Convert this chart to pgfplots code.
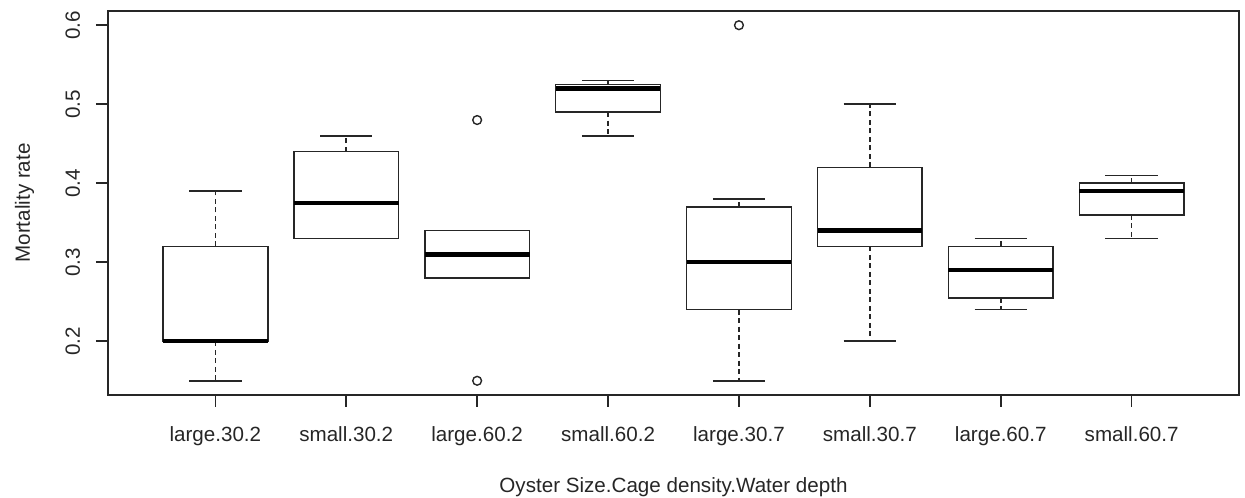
\documentclass[border=0pt]{standalone}
\usepackage{fontspec}
\setmainfont{Liberation Sans}
\usepackage{pgfplots}
\pgfplotsset{compat=1.18}
\usepgfplotslibrary{statistics}
\begin{document}
\begin{tikzpicture}
\useasboundingbox (0,0) rectangle (622.5pt,248.5pt);
\begin{axis}[
  at={(54pt,51pt)}, anchor=south west,
  scale only axis, width=565.5pt, height=192pt,
  xmin=0.18, xmax=8.82, ymin=0.132, ymax=0.618,
  axis line style={line width=0.8pt, black!85},
  every tick/.style={line width=0.8pt, black!85},
  tick align=outside, major tick length=6pt,
  xtick pos=bottom, ytick pos=left,
  xtick={1,2,3,4,5,6,7,8},
  xticklabels={large.30.2,small.30.2,large.60.2,small.60.2,large.30.7,small.30.7,large.60.7,small.60.7},
  ytick={0.2,0.3,0.4,0.5,0.6},
  yticklabels={0.2,0.3,0.4,0.5,0.6},
  tick label style={font=\fontsize{10.3pt}{12pt}\selectfont, inner sep=0pt, text=black!85},
  xticklabel style={anchor=base},
  xticklabel shift=17.3pt,
  yticklabel style={rotate=90, anchor=base},
  yticklabel shift=8pt,
  label style={font=\fontsize{10.3pt}{12pt}\selectfont, inner sep=0pt, text=black!85},
  xlabel={Oyster Size.Cage density.Water depth},
  xlabel style={at={(axis description cs:0.5,-0.2552)}, anchor=base},
  ylabel={Mortality rate},
  ylabel style={at={(axis description cs:-0.06897,0.5)}, anchor=base, rotate=0},
  boxplot/draw direction=y,
  boxplot/box extend=0.8,
  boxplot/whisker extend=0.4,
  boxplot/every box/.style={line width=0.8pt, fill=white},
  boxplot/every median/.style={line width=2.2pt, black},
  boxplot/every whisker/.style={line width=0.8pt},
  boxplot/draw/lower whisker/.code={
    \draw[/pgfplots/boxplot/every whisker, dash pattern=on 2.5pt off 1.75pt]
      (boxplot cs:\pgfplotsboxplotvalue{lower quartile}) --
      (boxplot cs:\pgfplotsboxplotvalue{lower whisker});
    \draw[/pgfplots/boxplot/every whisker]
      (boxplot whisker cs:\pgfplotsboxplotvalue{lower whisker},0) --
      (boxplot whisker cs:\pgfplotsboxplotvalue{lower whisker},1);
  },
  boxplot/draw/upper whisker/.code={
    \draw[/pgfplots/boxplot/every whisker, dash pattern=on 2.5pt off 1.75pt]
      (boxplot cs:\pgfplotsboxplotvalue{upper quartile}) --
      (boxplot cs:\pgfplotsboxplotvalue{upper whisker});
    \draw[/pgfplots/boxplot/every whisker]
      (boxplot whisker cs:\pgfplotsboxplotvalue{upper whisker},0) --
      (boxplot whisker cs:\pgfplotsboxplotvalue{upper whisker},1);
  },
  every axis plot/.append style={black!85, solid, mark=o, mark size=2.2pt, mark options={line width=0.7pt, fill=none}},
]
% large.30.2
\addplot[boxplot prepared={draw position=1, lower whisker=0.15, lower quartile=0.20, median=0.20, upper quartile=0.32, upper whisker=0.39}] coordinates {};
% small.30.2
\addplot[boxplot prepared={draw position=2, lower whisker=0.33, lower quartile=0.33, median=0.375, upper quartile=0.44, upper whisker=0.46}] coordinates {};
% large.60.2
\addplot[boxplot prepared={draw position=3, lower whisker=0.28, lower quartile=0.28, median=0.31, upper quartile=0.34, upper whisker=0.34}] coordinates {(0,0.48) (0,0.15)};
% small.60.2
\addplot[boxplot prepared={draw position=4, lower whisker=0.46, lower quartile=0.49, median=0.52, upper quartile=0.525, upper whisker=0.53}] coordinates {};
% large.30.7
\addplot[boxplot prepared={draw position=5, lower whisker=0.15, lower quartile=0.24, median=0.30, upper quartile=0.37, upper whisker=0.38}] coordinates {(0,0.60)};
% small.30.7
\addplot[boxplot prepared={draw position=6, lower whisker=0.20, lower quartile=0.32, median=0.34, upper quartile=0.42, upper whisker=0.50}] coordinates {};
% large.60.7
\addplot[boxplot prepared={draw position=7, lower whisker=0.24, lower quartile=0.255, median=0.29, upper quartile=0.32, upper whisker=0.33}] coordinates {};
% small.60.7
\addplot[boxplot prepared={draw position=8, lower whisker=0.33, lower quartile=0.36, median=0.39, upper quartile=0.40, upper whisker=0.41}] coordinates {};
\end{axis}
\end{tikzpicture}
\end{document}
